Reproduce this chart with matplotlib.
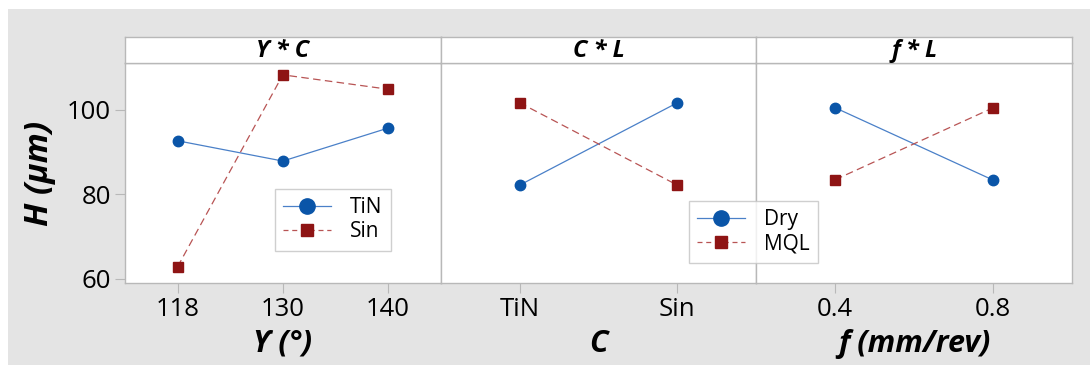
import matplotlib
matplotlib.use("Agg")
import matplotlib.pyplot as plt
from matplotlib.patches import Rectangle
from matplotlib.lines import Line2D

plt.rcParams['font.family'] = ['Open Sans', 'DejaVu Sans']

# panel 1: gamma * C
gamma_levels = ['118', '130', '140']
gamma_tin = [92.7, 87.9, 95.7]
gamma_sin = [62.9, 108.3, 104.9]

# panel 2: C * L
coat_levels = ['TiN', 'Sin']
coat_dry = [82.2, 101.7]
coat_mql = [101.7, 82.2]

# panel 3: f * L
feed_levels = ['0.4', '0.8']
feed_dry = [100.5, 83.4]
feed_mql = [83.5, 100.5]

y_ticks = [60, 80, 100]
strip_titles = ['ϒ * C', 'C * L', 'f * L']
x_titles = ['ϒ (°)', 'C', 'f (mm/rev)']

BLUE = '#0a55a8'
BLUE_LINE = '#4a80c8'
RED = '#8e1414'
RED_LINE = '#b85454'
GRID = '#b8b8b8'
BG = '#e4e4e4'

W, H = 1090, 365
fig = plt.figure(figsize=(W / 100, H / 100), dpi=100, facecolor='white')
fig.patches.append(Rectangle((8 / W, 0), 1, (H - 9) / H, transform=fig.transFigure,
                             facecolor=BG, edgecolor='none', zorder=-5))

left, right = 125, 1072
top_strip, top_data, bottom = 37, 63, 283
pw = (right - left) / 3

panels = [
    (gamma_levels, gamma_tin, gamma_sin),
    (coat_levels, coat_dry, coat_mql),
    (feed_levels, feed_dry, feed_mql),
]


def style_line(ax, xs, ys, first):
    if first:
        ax.plot(xs, ys, color=BLUE_LINE, lw=0.9, marker='o', ms=7.5,
                mfc=BLUE, mec=BLUE, zorder=3)
    else:
        ax.plot(xs, ys, color=RED_LINE, lw=0.9, ls=(0, (6, 3.5)), marker='s', ms=6.5,
                mfc=RED, mec=RED, zorder=3)


for i, (levels, s1, s2) in enumerate(panels):
    x0 = left + i * pw
    ax = fig.add_axes([x0 / W, (H - bottom) / H, pw / W, (bottom - top_data) / H])
    xs = list(range(len(levels)))
    style_line(ax, xs, s1, True)
    style_line(ax, xs, s2, False)
    ax.set_xlim(-0.5, len(levels) - 0.5)
    ax.set_ylim(59.05, 111.1)
    ax.set_xticks(xs)
    ax.set_xticklabels(levels, fontsize=18.5)
    ax.tick_params(axis='x', length=7, color=GRID, pad=3)
    if i == 0:
        ax.set_yticks(y_ticks)
        ax.tick_params(axis='y', length=7, color=GRID, labelsize=18.5, pad=3)
        ax.set_ylabel('H (μm)', fontsize=24, fontweight='bold', fontstyle='italic', labelpad=8)
    else:
        ax.set_yticks([])
    ax.set_xlabel(x_titles[i], fontsize=22, fontweight='bold', fontstyle='italic', labelpad=5)
    for sp in ax.spines.values():
        sp.set_color(GRID)
        sp.set_linewidth(1)

    sax = fig.add_axes([x0 / W, (H - top_data) / H, pw / W, (top_data - top_strip) / H])
    sax.set_xticks([])
    sax.set_yticks([])
    for sp in sax.spines.values():
        sp.set_color(GRID)
        sp.set_linewidth(1)
    sax.text(0.5, 0.45, strip_titles[i], ha='center', va='center', fontsize=17,
             fontweight='bold', fontstyle='italic', transform=sax.transAxes)


def handles():
    h1 = Line2D([], [], color=BLUE_LINE, lw=0.9, marker='o', ms=11, mfc=BLUE, mec=BLUE)
    h2 = Line2D([], [], color=RED_LINE, lw=0.9, ls=(0, (4, 3)), marker='s', ms=9, mfc=RED, mec=RED)
    return [h1, h2]


for labels, (lx, ly) in [(['TiN', 'Sin'], (275, 189)), (['Dry', 'MQL'], (689, 201))]:
    leg = fig.legend(handles(), labels, loc='upper left', bbox_to_anchor=(lx / W, 1 - ly / H),
                     fontsize=15, frameon=True, fancybox=False, edgecolor='#c4c4c4',
                     handlelength=2.3, handletextpad=0.9, borderpad=0.4, labelspacing=0.15,
                     borderaxespad=0)
    leg.get_frame().set_linewidth(1)

fig.savefig('out.png', dpi=100, facecolor=fig.get_facecolor())
